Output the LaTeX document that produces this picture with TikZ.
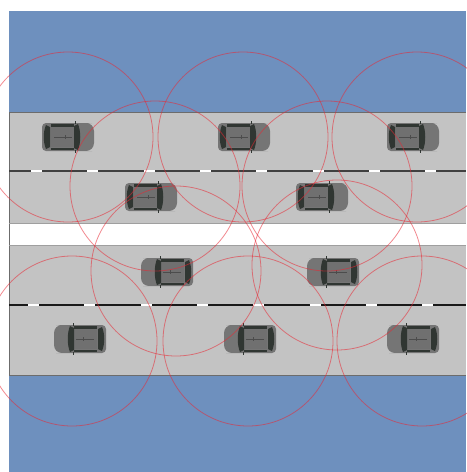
\documentclass[tikz,border=0pt]{standalone}
\usepackage{tikz}

\definecolor{water}{RGB}{110,144,190}
\definecolor{asphalt}{RGB}{195,195,195}
\definecolor{glass}{RGB}{48,54,50}
\definecolor{signal}{RGB}{232,40,52}

\tikzset{
  pics/car/.style={code={
    \fill[gray!92!black] (-26,-14) [rounded corners=2mm] -- (20,-14) [rounded corners=4mm] -- (26,-14) -- (26,14) [rounded corners=2mm] -- (20,14) -- (-26,14) -- cycle;
    \fill[gray!88!black] (-17,-10) rectangle (7,10);
    \fill[glass] (6,-11) -- (10,-13) .. controls (13,-6) and (13,6) .. (10,13) -- (6,11) -- cycle;
    \fill[glass] (-18,-10) -- (-22,-12) .. controls (-25,-5) and (-25,5) .. (-22,12) -- (-18,10) -- cycle;
    \fill[glass] (-17,-13) -- (6,-13) -- (6,-10.5) -- (-17,-10.5) -- cycle;
    \fill[glass] (-17,13) -- (6,13) -- (6,10.5) -- (-17,10.5) -- cycle;
    \draw[glass,line width=0.3mm] (7,-13) -- (7,-16) (7,13) -- (7,16);
    \draw[gray!60!black,line width=0.15mm] (-14,0) -- (4,0) (-3,-2) -- (-3,2);
  }}
}

\begin{document}
\begin{tikzpicture}[
    x=0.5mm, y=-0.5mm,
    rim/.style={draw=gray!85!black, line width=0.5mm},
    lane/.style={line width=1mm},
    gapline/.style={white, line width=1mm},
    reach/.style={draw=signal, draw opacity=0.55, line width=0.4mm}
]

\useasboundingbox (0,0) rectangle (466,472);
\fill[water] (9,11) rectangle (466,472);

% the two roads and the strip between them
\fill[asphalt] (9,112.5) rectangle (466,223.5);
\fill[white] (9,223.5) rectangle (466,245.5);
\fill[asphalt] (9,245.5) rectangle (466,375);
\draw[rim] (466,112.5) -- (9,112.5) -- (9,375) -- (466,375);
\draw[gray!75, line width=0.4mm] (9,223.5) -- (466,223.5) (9,245.5) -- (466,245.5);

\draw[lane, black!75] (9,170.7) -- (466,170.7);
\draw[lane, black!90] (9,305) -- (466,305);
\foreach \i in {0,...,7} {
  \draw[gapline] ({31+56.3*\i},170.7) -- ++(11,0);
  \draw[gapline] ({28+56.3*\i},305) -- ++(11,0);
}

% cars driving right on the upper road, left on the lower one
\foreach \x/\y in {68/137, 244/137, 413/137, 151/197, 322/197}
  \pic at (\x,\y) {car};
\foreach \x/\y in {167/272, 333/272, 80/339, 250/339, 413/339}
  \pic[xscale=-1] at (\x,\y) {car};

% transmission ranges
\foreach \x/\y in {68/137, 243/137, 417/137, 155/186, 327/186,
                   176/271, 337/265, 72/341, 248/341, 422/341}
  \draw[reach] (\x,\y) circle[radius=85];

\end{tikzpicture}
\end{document}
